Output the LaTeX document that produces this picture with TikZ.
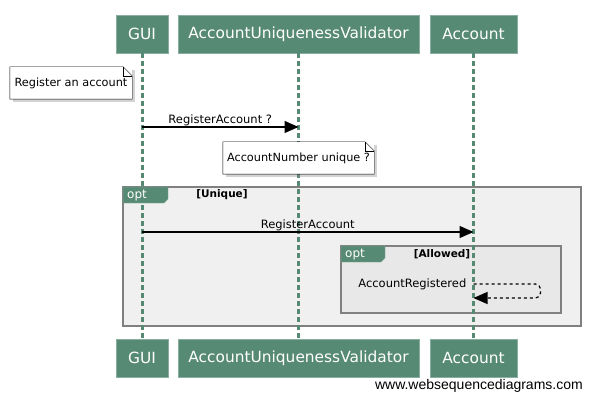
\documentclass[tikz,border=0pt]{standalone}
\usepackage{fontspec}
\setmainfont{DejaVu Sans}
\newfontfamily\markfont{Liberation Sans}
\usepackage{xcolor}
\usetikzlibrary{arrows.meta, positioning, calc, shadows}

\definecolor{wsdgreen}{RGB}{87,138,117}
\definecolor{framegray}{RGB}{128,128,128}
\definecolor{outerfill}{RGB}{240,240,240}
\definecolor{innerfill}{RGB}{232,232,232}

\begin{document}
\begin{tikzpicture}[
    x=1pt, y=-1pt,
    % styles
    participant/.style={
        draw=wsdgreen!70!white, fill=wsdgreen, text=white, font=\fontsize{15.4}{17}\selectfont,
        minimum height=38pt, inner sep=0pt
    },
    lifeline/.style={
        draw=wsdgreen, line width=3pt, dash pattern=on 4.5pt off 3.5pt
    },
    notebox/.style={
        fill=white, inner sep=0pt, font=\fontsize{11.3}{13}\selectfont,
        minimum height=32pt, drop shadow={shadow xshift=3pt, shadow yshift=-3pt, opacity=0.35}
    },
    opt_frame/.style={
        draw=framegray, line width=1.5pt
    },
    opt_tab/.style={
        fill=wsdgreen, draw=wsdgreen!70!white
    },
    tab_text/.style={
        text=white, font=\fontsize{12}{14}\selectfont, inner sep=0pt
    },
    guard_text/.style={
        font=\bfseries\fontsize{10.5}{12}\selectfont, inner sep=0pt
    },
    msg_text/.style={
        font=\fontsize{11.5}{13}\selectfont, inner sep=1pt
    },
    call/.style={
        -{Triangle[length=14pt, width=12pt]}, line width=1.2pt
    },
    reply/.style={
        -{Triangle[length=14pt, width=12pt]}, line width=1.2pt, dashed, rounded corners=5pt
    }
]
    \useasboundingbox (0,0) rectangle (592,401);

    % --- 1. PARTICIPANTS (top and bottom) ---
    \node[participant, minimum width=52pt] (gui_top) at (142,34) {GUI};
    \node[participant, minimum width=241pt] (validator_top) at (298.5,34) {AccountUniquenessValidator};
    \node[participant, minimum width=87pt] (account_top) at (473.5,34) {Account};

    \node[participant, minimum width=52pt] (gui_bot) at (142,358) {GUI};
    \node[participant, minimum width=241pt] (validator_bot) at (298.5,358) {AccountUniquenessValidator};
    \node[participant, minimum width=87pt] (account_bot) at (473.5,358) {Account};

    % --- 2. OPT FRAMES (behind lifelines) ---
    \draw[opt_frame, fill=outerfill] (123,187) rectangle (581,326);
    \draw[opt_frame, fill=innerfill] (341,246) rectangle (561,313);

    % --- 3. LIFELINES ---
    \draw[lifeline] (gui_top.south) -- (gui_bot.north);
    \draw[lifeline] (validator_top.south) -- (validator_bot.north);
    \draw[lifeline] (account_top.south) -- (account_bot.north);

    % opt tabs and guards sit on top of the lifelines
    \fill[opt_tab] (123,187) -- (168,187) -- (168,199) -- (164,203) -- (123,203) -- cycle;
    \node[tab_text, anchor=west] (unique_tab) at (127,195.5) {opt};
    \node[guard_text] (unique_guard) at (222,195) {[Unique]};

    \fill[opt_tab] (341,246) -- (385,246) -- (385,258) -- (381,262) -- (341,262) -- cycle;
    \node[tab_text, anchor=west] (allowed_tab) at (345,254.5) {opt};
    \node[guard_text] (allowed_guard) at (442,254) {[Allowed]};

    % --- 4. NOTES ---
    \node[notebox, minimum width=122pt] (reg_note) at (71,83) {Register an account};
    \draw (reg_note.north west) -- ([xshift=-9pt]reg_note.north east) -- ([yshift=-9pt]reg_note.north east)
        -- (reg_note.south east) -- (reg_note.south west) -- cycle;
    \draw ([xshift=-9pt]reg_note.north east) |- ([yshift=-9pt]reg_note.north east);

    \node[notebox, minimum width=151pt] (unique_note) at (298.5,158) {AccountNumber unique ?};
    \draw (unique_note.north west) -- ([xshift=-9pt]unique_note.north east) -- ([yshift=-9pt]unique_note.north east)
        -- (unique_note.south east) -- (unique_note.south west) -- cycle;
    \draw ([xshift=-9pt]unique_note.north east) |- ([yshift=-9pt]unique_note.north east);

    % --- 5. MESSAGES ---
    \coordinate (gui_m1) at (gui_top.south |- 0,127);
    \coordinate (validator_m1) at (validator_top.south |- 0,127);
    \draw[call] (gui_m1) -- (validator_m1) node[msg_text, midway, above] {RegisterAccount ?};

    \coordinate (gui_m2) at (gui_top.south |- 0,232);
    \coordinate (account_m2) at (account_top.south |- 0,232);
    \draw[call] (gui_m2) -- (account_m2) node[msg_text, midway, above] {RegisterAccount};

    \coordinate (account_m3) at (account_top.south |- 0,284);
    \coordinate (account_m4) at (account_top.south |- 0,298);
    \draw[reply] (account_m3) -- ++(67,0) -- ++(0,14) -- (account_m4);
    \node[msg_text, anchor=east] (registered_label) at ([xshift=-6pt]account_m3) {AccountRegistered};

    % --- 6. WATERMARK ---
    \node[font=\markfont\fontsize{14}{16}\selectfont, anchor=east, inner sep=0pt] (watermark) at (583,386) {www.websequencediagrams.com};

\end{tikzpicture}
\end{document}
